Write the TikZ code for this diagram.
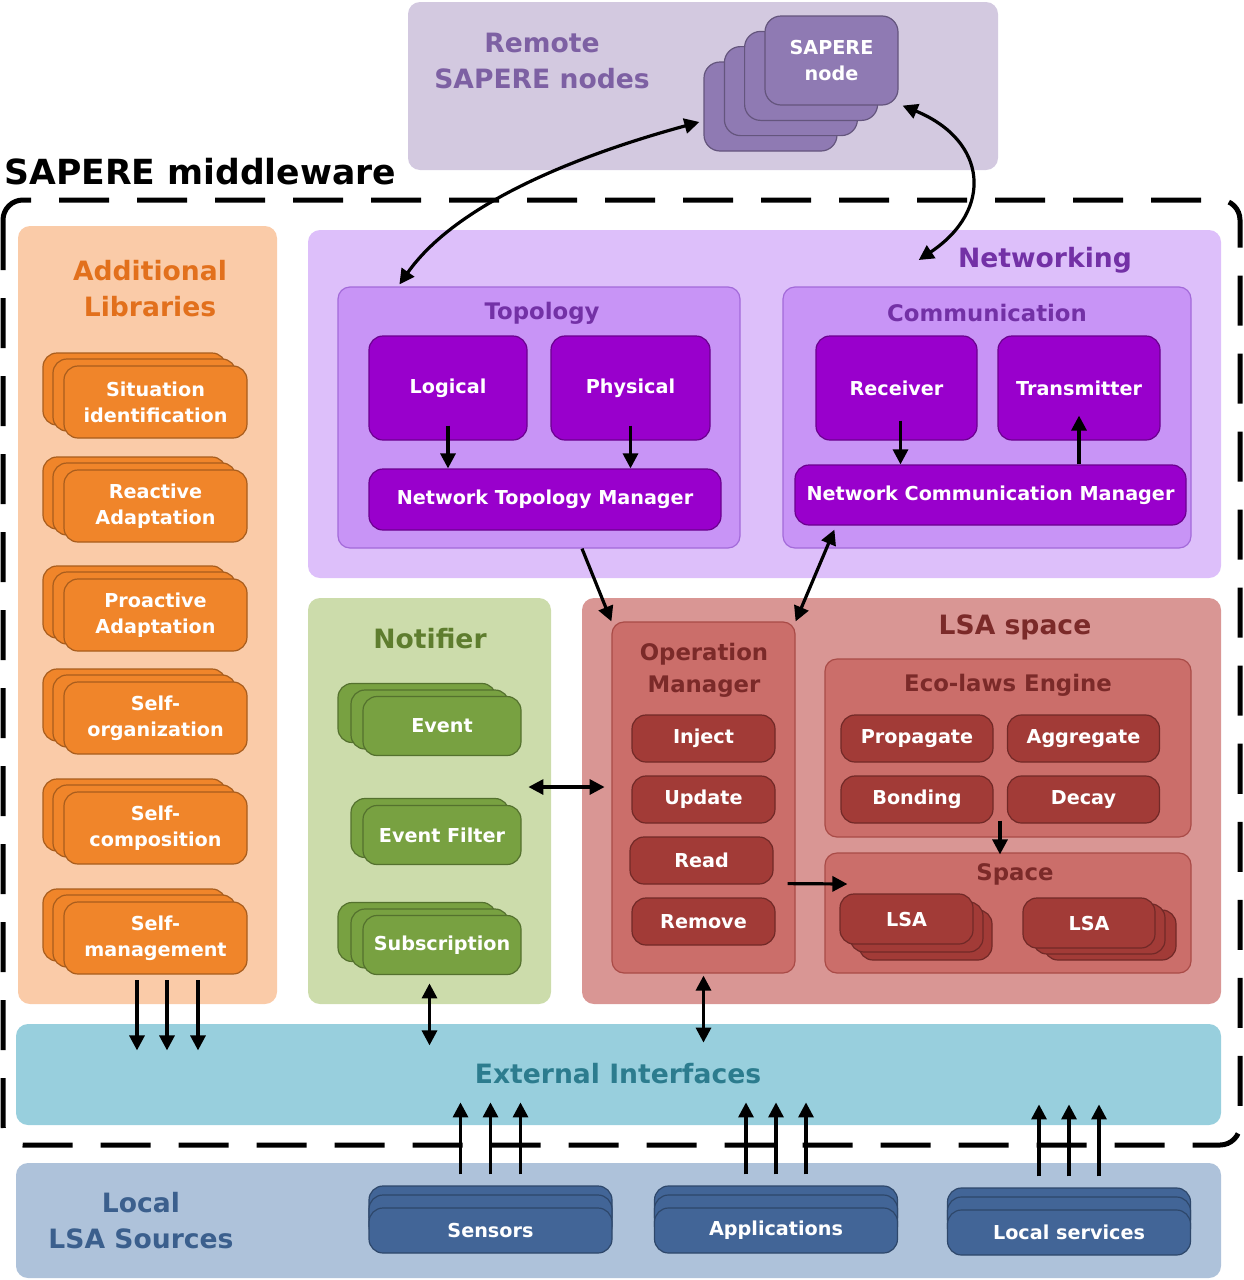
\documentclass[tikz,border=0pt]{standalone}
\usepackage{fontspec}
\setmainfont{DejaVu Sans}
\usetikzlibrary{arrows.meta, shadows, positioning}
\tikzset{>={Triangle[length=7.5pt,width=7.5pt]}}
\definecolor{remoteBg}{HTML}{D3C9E0}
\definecolor{remoteItem}{HTML}{8F7AB3}
\definecolor{remoteText}{HTML}{7D60A3}
\definecolor{libBg}{HTML}{FACBA8}
\definecolor{libItem}{HTML}{F0852A}
\definecolor{libText}{HTML}{E2701C}
\definecolor{netBg}{HTML}{DDBFFA}
\definecolor{netSub}{HTML}{C894F6}
\definecolor{netLine}{HTML}{A36AD9}
\definecolor{netItem}{HTML}{9900CC}
\definecolor{netText}{HTML}{7331A6}
\definecolor{notiBg}{HTML}{CCDCAB}
\definecolor{notiItem}{HTML}{78A141}
\definecolor{notiText}{HTML}{5E7D2E}
\definecolor{lsaBg}{HTML}{D99694}
\definecolor{lsaSub}{HTML}{CB6E6A}
\definecolor{lsaLine}{HTML}{A94B47}
\definecolor{lsaItem}{HTML}{A23B37}
\definecolor{lsaText}{HTML}{7B2A29}
\definecolor{extBg}{HTML}{98CFDD}
\definecolor{extText}{HTML}{2C7C8E}
\definecolor{srcBg}{HTML}{AEC2DA}
\definecolor{srcItem}{HTML}{426597}
\definecolor{srcText}{HTML}{3B5F8D}

\begin{document}
\begin{tikzpicture}[x=0.5pt,y=-0.5pt,
    panel/.style={rounded corners=6pt, inner sep=0pt},
    subpanel/.style={panel, draw=#1, line width=0.6pt},
    box/.style={rounded corners=7pt, inner sep=0pt, text=white, align=center,
        fill=#1, draw=#1!70!black, line width=0.6pt,
        font=\bfseries\fontsize{9.6}{13}\selectfont},
    layer/.style n args={3}{copy shadow={shadow xshift=#1pt, shadow yshift=#2pt,
        fill=#3, draw=#3!70!black}},
    title/.style={inner sep=0pt, align=center, font=\bfseries\fontsize{13.3}{18}\selectfont},
    subtitle/.style={inner sep=0pt, align=center, font=\bfseries\fontsize{11.4}{16}\selectfont},
    frame/.style={line width=2.5pt, dash pattern=on 25pt off 14pt, rounded corners=10pt},
    arr/.style={->, line width=1.6pt},
    darr/.style={<->, line width=1.6pt},
    libsize/.style={minimum width=91.5pt, minimum height=36pt},
    notisize/.style={minimum width=79pt, minimum height=29.5pt},
    opsize/.style={minimum width=71.5pt, minimum height=23.5pt},
    lawsize/.style={minimum width=76pt, minimum height=23.5pt},
    srcsize/.style={minimum width=121.5pt, minimum height=22.5pt}]
    \useasboundingbox (0,0) rectangle (1243,1280);

    % remote SAPERE nodes
    \node[panel, fill=remoteBg, minimum width=295pt, minimum height=84pt] (remote) at (703,86) {};
    \node[title, text=remoteText] (remtitle) at (542,61) {Remote\\SAPERE nodes};
    \node[box=remoteItem, rounded corners=8pt, minimum width=66.5pt, minimum height=44.5pt,
        layer={-30.5}{-23}{remoteItem}, layer={-20.3}{-15.3}{remoteItem}, layer={-10.2}{-7.7}{remoteItem}]
        (sapnode) at (831.5,60.5) {SAPERE\\node};

    % middleware frame
    \node[anchor=west, inner sep=0pt, font=\bfseries\fontsize{17.3}{20}\selectfont] (mwtitle) at (4,172) {SAPERE middleware};
    \draw[frame] (3,200) rectangle (1240,1145);

    % additional libraries
    \node[panel, fill=libBg, minimum width=129.5pt, minimum height=389pt] (addlib) at (147.5,615) {};
    \node[title, text=libText] (libtitle) at (150,289) {Additional\\Libraries};
    \node[box=libItem, libsize, layer={-10.5}{6.5}{libItem}, layer={-5.5}{3.5}{libItem}] (situation) at (155.5,402) {Situation\\identification};
    \node[box=libItem, libsize, layer={-10.5}{6.5}{libItem}, layer={-5.5}{3.5}{libItem}] (reactive) at (155.5,506) {Reactive\\Adaptation};
    \node[box=libItem, libsize, layer={-10.5}{6.5}{libItem}, layer={-5.5}{3.5}{libItem}] (proactive) at (155.5,615) {Proactive\\Adaptation};
    \node[box=libItem, libsize, layer={-10.5}{6.5}{libItem}, layer={-5.5}{3.5}{libItem}] (selforg) at (155.5,718) {Self-\\organization};
    \node[box=libItem, libsize, layer={-10.5}{6.5}{libItem}, layer={-5.5}{3.5}{libItem}] (selfcomp) at (155.5,828) {Self-\\composition};
    \node[box=libItem, libsize, layer={-10.5}{6.5}{libItem}, layer={-5.5}{3.5}{libItem}] (selfman) at (155.5,938) {Self-\\management};

    % networking
    \node[panel, fill=netBg, minimum width=456.5pt, minimum height=174pt] (net) at (764.5,404) {};
    \node[title, text=netText] (nettitle) at (1045,260) {Networking};
    \node[subpanel=netLine, fill=netSub, minimum width=201pt, minimum height=130.5pt] (topo) at (539,417.5) {};
    \node[subtitle, text=netText] (topotitle) at (542,313) {Topology};
    \node[box=netItem, minimum width=79pt, minimum height=52pt] (logical) at (448,388) {Logical};
    \node[box=netItem, minimum width=79.5pt, minimum height=52pt] (physical) at (630.5,388) {Physical};
    \node[box=netItem, minimum width=176pt, minimum height=30.5pt] (ntm) at (545,499.5) {Network Topology Manager};
    \node[subpanel=netLine, fill=netSub, minimum width=204pt, minimum height=130.5pt] (comm) at (987,417.5) {};
    \node[subtitle, text=netText] (commtitle) at (987,313) {Communication};
    \node[box=netItem, minimum width=80.5pt, minimum height=52pt] (receiver) at (896.5,388) {Receiver};
    \node[box=netItem, minimum width=81pt, minimum height=52pt] (transmitter) at (1079,388) {Transmitter};
    \node[box=netItem, minimum width=195.5pt, minimum height=30pt] (ncm) at (990.5,495) {Network Communication Manager};

    % notifier
    \node[panel, fill=notiBg, minimum width=121.5pt, minimum height=203pt] (notifier) at (429.5,801) {};
    \node[title, text=notiText] (notititle) at (430,639) {Notifier};
    \node[box=notiItem, notisize, layer={-12.5}{6.5}{notiItem}, layer={-6}{3.25}{notiItem}] (event) at (442,726) {Event};
    \node[box=notiItem, notisize, layer={-6}{3.5}{notiItem}] (filter) at (442,835) {Event Filter};
    \node[box=notiItem, notisize, layer={-12.5}{6.5}{notiItem}, layer={-6}{3.25}{notiItem}] (subscr) at (442,945) {Subscription};

    % LSA space
    \node[panel, fill=lsaBg, minimum width=319.5pt, minimum height=203pt] (lsa) at (901.5,801) {};
    \node[title, text=lsaText] (lsatitle) at (1015,627) {LSA space};
    \node[subpanel=lsaLine, fill=lsaSub, minimum width=91.5pt, minimum height=175.5pt] (opmgr) at (703.5,797.5) {};
    \node[subtitle, text=lsaText] (optitle) at (704,670) {Operation\\Manager};
    \node[box=lsaItem, opsize] (inject) at (703.5,738.5) {Inject};
    \node[box=lsaItem, opsize] (update) at (703.5,799.5) {Update};
    \node[box=lsaItem, opsize] (read) at (701.5,860.5) {Read};
    \node[box=lsaItem, opsize] (remove) at (703.5,921.5) {Remove};
    \node[subpanel=lsaLine, fill=lsaSub, minimum width=183pt, minimum height=89pt] (eco) at (1008,748) {};
    \node[subtitle, text=lsaText] (ecotitle) at (1008,685) {Eco-laws Engine};
    \node[box=lsaItem, lawsize] (propagate) at (917,738.5) {Propagate};
    \node[box=lsaItem, lawsize] (aggregate) at (1083.5,738.5) {Aggregate};
    \node[box=lsaItem, lawsize] (bonding) at (917,799.5) {Bonding};
    \node[box=lsaItem, lawsize] (decay) at (1083.5,799.5) {Decay};
    \node[subpanel=lsaLine, fill=lsaSub, minimum width=183pt, minimum height=60pt] (space) at (1008,913) {};
    \node[subtitle, text=lsaText] (spacetitle) at (1015,874) {Space};
    \node[box=lsaItem, minimum width=66.5pt, minimum height=25pt, layer={9.5}{-8}{lsaItem}, layer={5}{-4}{lsaItem}] (lsaA) at (906.5,919) {LSA};
    \node[box=lsaItem, minimum width=66pt, minimum height=25pt, layer={10.5}{-6}{lsaItem}, layer={5}{-3}{lsaItem}] (lsaB) at (1089,923) {LSA};

    % external interfaces and local sources
    \node[panel, fill=extBg, minimum width=602.5pt, minimum height=50.5pt] (extif) at (618.5,1074.5) {};
    \node[title, text=extText] (exttitle) at (618,1074) {External Interfaces};
    \node[panel, fill=srcBg, minimum width=602.5pt, minimum height=57.5pt] (local) at (618.5,1220.5) {};
    \node[title, text=srcText] (srctitle) at (141,1221) {Local\\LSA Sources};
    \node[box=srcItem, srcsize, layer={0}{11}{srcItem}, layer={0}{6.5}{srcItem}] (sensors) at (490.5,1230.5) {Sensors};
    \node[box=srcItem, srcsize, layer={0}{11}{srcItem}, layer={0}{6.5}{srcItem}] (apps) at (776,1230.5) {Applications};
    \node[box=srcItem, srcsize, layer={0}{11}{srcItem}, layer={0}{6.5}{srcItem}] (services) at (1069,1232.5) {Local services};

    % connectors
    \draw[darr] ([xshift=31pt,yshift=1pt]topo.north west) .. controls +(60,-85) and +(-110,30) .. ([xshift=-32.5pt,yshift=-30.75pt]sapnode.west);
    \draw[darr] ([xshift=2pt]sapnode.south east) .. controls +(85,35) and +(75,-50) .. ([xshift=-19.5pt]nettitle.west);
    \draw[arr] ([yshift=7.5pt]logical.south) -- (logical.south |- ntm.north);
    \draw[arr] ([yshift=7.5pt]physical.south) -- (physical.south |- ntm.north);
    \draw[arr] ([xshift=2pt,yshift=10pt]receiver.south) -- ([xshift=2pt]receiver.south |- ncm.north);
    \draw[arr] (transmitter.south |- ncm.north) -- ([yshift=12.5pt]transmitter.south);
    \draw[arr] ([xshift=21.5pt]topo.south) -- (opmgr.north west);
    \draw[darr] ([xshift=20pt,yshift=-2pt]ncm.south west) -- (opmgr.north east);
    \draw[darr] ([xshift=-11.5pt,yshift=7pt]notifier.east) -- ([xshift=11.5pt,yshift=7pt]lsa.west);
    \draw[arr] ([xshift=-4pt,yshift=8.5pt]eco.south) -- ([xshift=-4pt,yshift=-1pt]space.north);
    \draw[arr] ([xshift=7pt,yshift=0.5pt]read.south east) -- ([xshift=11.5pt,yshift=14.5pt]space.west);
    \foreach \dx in {-5.25,9.75,25.25}
        \draw[arr] ([xshift=\dx pt,yshift=12pt]addlib.south) -- ++(0,70);
    \draw[darr] ([yshift=10.5pt]notifier.south) -- ++(0,62);
    \draw[darr] ([yshift=-1pt]opmgr.south) -- ++(0,67);
    \foreach \src in {sensors, apps, services}
        \foreach \dx in {-15,0,15}
            \draw[arr] ([xshift=\dx pt,yshift=16.5pt]\src.north) -- ++(0,-72);
\end{tikzpicture}
\end{document}
